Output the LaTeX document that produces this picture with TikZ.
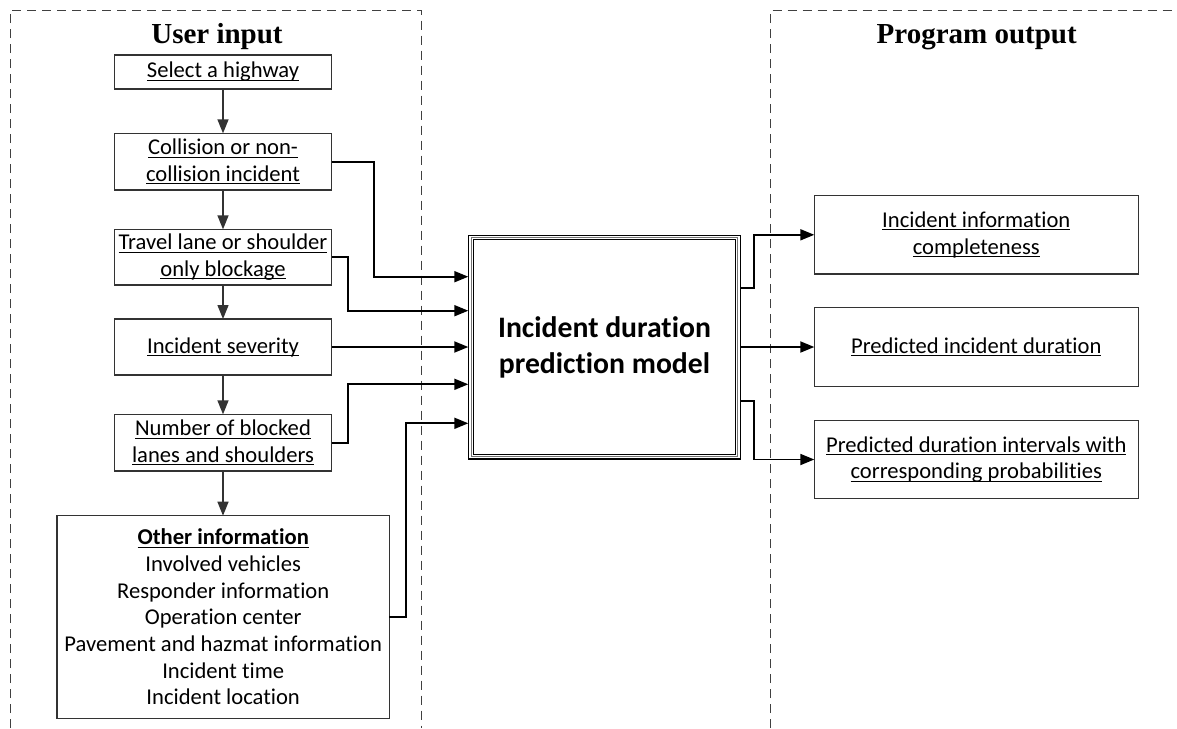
\documentclass[tikz,border=0pt]{standalone}
\usepackage{fontspec}
\setmainfont{Carlito}[Ligatures=NoCommon]
\newfontfamily\headfont{Liberation Serif}
\usetikzlibrary{arrows.meta}

% underline with a fixed rule position, one line at a time
\newcommand\ulx[1]{\setbox0\hbox{#1}\rlap{\rule[-2.8pt]{\wd0}{1pt}}\box0}

\tikzset{
  frame/.style={draw=black!75, line width=0.9pt, dash pattern=on 9pt off 6pt},
  title/.style={anchor=base, font=\headfont\bfseries\fontsize{29}{34}\selectfont},
  inbox/.style={draw=black!80, line width=1.2pt, inner sep=0pt, outer sep=0pt,
    align=center, minimum width=217.4pt, font=\fontsize{22.6}{26.7}\selectfont},
  outbox/.style={inbox, minimum width=324pt},
  flow/.style={draw=black!80, line width=1.3pt, -{Triangle[length=14pt,width=11pt]}},
  conn/.style={draw=black, line width=1.8pt, -{Triangle[length=14pt,width=11pt]}},
}

\begin{document}
\begin{tikzpicture}[x=1pt, y=-1pt]
\fill[white] (0,0) rectangle (1177,728);
\useasboundingbox (0,0) rectangle (1177,728);

% dashed panels
\draw[frame] (10,728) -- (10,10) -- (421.5,10) -- (421.5,728);
\draw[frame] (770.7,728) -- (770.7,10) -- (1177,10);

\node[title] (tin) at (217,43.3) {User input};
\node[title] (tout) at (976.7,43.3) {Program output};

% user input chain
\node[inbox, minimum height=34pt] (b1) at (223,72) {\ulx{Select a highway}};
\node[inbox, minimum height=56.7pt] (b2) at (223,161.7) {\ulx{Collision or non-}\\\ulx{collision incident}};
\node[inbox, minimum height=55.7pt] (b3) at (223,257.2) {\ulx{Travel lane or shoulder}\\\ulx{only blockage}};
\node[inbox, minimum height=56pt] (b4) at (223,347) {\ulx{Incident severity}};
\node[inbox, minimum height=56.7pt] (b5) at (223,442.7) {\ulx{Number of blocked}\\\ulx{lanes and shoulders}};
\node[inbox, minimum width=332.3pt, minimum height=202.6pt] (b6) at (223.2,617)
  {\ulx{\bfseries Other information}\\Involved vehicles\\Responder information\\Operation center\\Pavement and hazmat information\\Incident time\\Incident location};

\draw[flow] (b1) -- (b2);
\draw[flow] (b2) -- (b3);
\draw[flow] (b3) -- (b4);
\draw[flow] (b4) -- (b5);
\draw[flow] (b5.south) -- (b5.south |- b6.north);

% prediction model with triple border
\node[inner sep=0pt, outer sep=0pt, minimum width=272.4pt, minimum height=225pt,
  align=center, font=\bfseries\fontsize{29.7}{36}\selectfont] (c) at (604.5,347)
  {Incident duration\\prediction model};
\draw[black, line width=5.6pt] ([xshift=2.8pt,yshift=-2.8pt]c.north west) rectangle ([xshift=-2.8pt,yshift=2.8pt]c.south east);
\draw[white, line width=3.4pt] ([xshift=2.8pt,yshift=-2.8pt]c.north west) rectangle ([xshift=-2.8pt,yshift=2.8pt]c.south east);
\draw[black!55, line width=1pt] ([xshift=2.8pt,yshift=-2.8pt]c.north west) rectangle ([xshift=-2.8pt,yshift=2.8pt]c.south east);

% inputs to the model
\draw[conn] (b2.east) -- ++(42.3,0) |- ([yshift=70.3pt]c.west);
\draw[conn] (b3.east) -- ++(16.6,0) |- ([yshift=36.3pt]c.west);
\draw[conn] (b4.east) -- (b4.east -| c.west);
\draw[conn] (b5.east) -- ++(16.6,0) |- ([yshift=-37.3pt]c.west);
\draw[conn] (b6.east) -- ++(16.7,0) |- ([yshift=-76.3pt]c.west);

% program output
\node[outbox, minimum height=78.3pt] (oa) at (976.3,234.8) {\ulx{Incident information}\\\ulx{completeness}};
\node[outbox, minimum height=78.4pt] (ob) at (976.3,347) {\ulx{Predicted incident duration}};
\node[outbox, minimum height=77.6pt] (oc) at (976.3,459.5) {\ulx{Predicted duration intervals with}\\\ulx{corresponding probabilities}};

\draw[conn] ([yshift=59.3pt]c.east) -- ++(13.6,0) |- (oa.west);
\draw[conn] (c.east) -- (ob.west);
\draw[conn] ([yshift=-53.7pt]c.east) -- ++(13.6,0) |- (oc.west);
\end{tikzpicture}
\end{document}
